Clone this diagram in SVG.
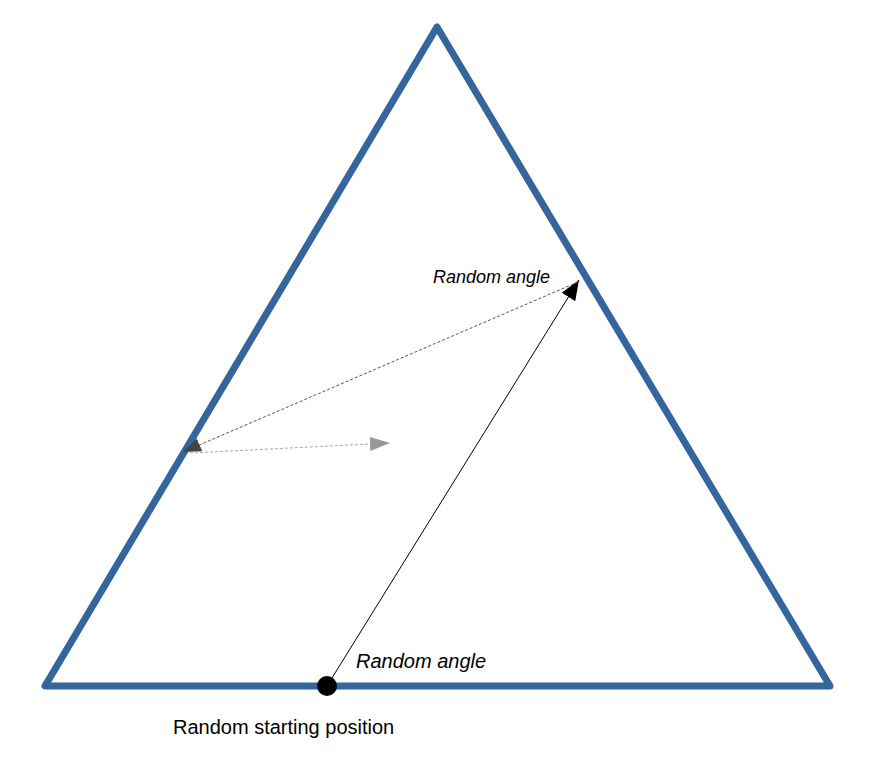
<svg xmlns="http://www.w3.org/2000/svg" width="873" height="771" viewBox="0 0 873 771">
<style>
.lbl{font-family:"Liberation Sans",Arial,sans-serif;fill:#000}
.it{font-style:italic}
</style>
<defs>
<marker id="ah-black" markerUnits="userSpaceOnUse" markerWidth="22" markerHeight="18" refX="20" refY="8" orient="auto" viewBox="0 0 22 16"><path d="M0,0 L20,8 L0,16 Z" fill="#000"/></marker>
<marker id="ah-dark" markerUnits="userSpaceOnUse" markerWidth="20" markerHeight="16" refX="18" refY="7" orient="auto" viewBox="0 0 20 14"><path d="M0,0 L18,7 L0,14 Z" fill="#444"/></marker>
<marker id="ah-grey" markerUnits="userSpaceOnUse" markerWidth="22" markerHeight="16" refX="20" refY="7" orient="auto" viewBox="0 0 22 14"><path d="M0,0 L20,7 L0,14 Z" fill="#999"/></marker>
</defs>
<rect width="873" height="771" fill="#fff"/>
<g id="triangle">
<polygon points="437,27 45,686 830,686" fill="none" stroke="#34659c" stroke-width="7" stroke-linejoin="round"/>
</g>
<g id="connectors">
<line x1="327" y1="686" x2="579" y2="280" stroke="#000" stroke-width="1" marker-end="url(#ah-black)"/>
<line x1="578" y1="282" x2="183" y2="452" stroke="#555" stroke-width="1" stroke-dasharray="3,2" marker-end="url(#ah-dark)"/>
<line x1="190" y1="453" x2="390" y2="443" stroke="#aaa" stroke-width="1" stroke-dasharray="3,2" marker-end="url(#ah-grey)"/>
</g>
<g id="start">
<circle cx="327" cy="686" r="10" fill="#000"/>
</g>
<g id="labels">
<text class="lbl it" x="433" y="283" font-size="18">Random angle</text>
<text class="lbl it" x="356" y="668" font-size="20">Random angle</text>
<text class="lbl" x="173" y="734" font-size="20">Random starting position</text>
</g>
</svg>
